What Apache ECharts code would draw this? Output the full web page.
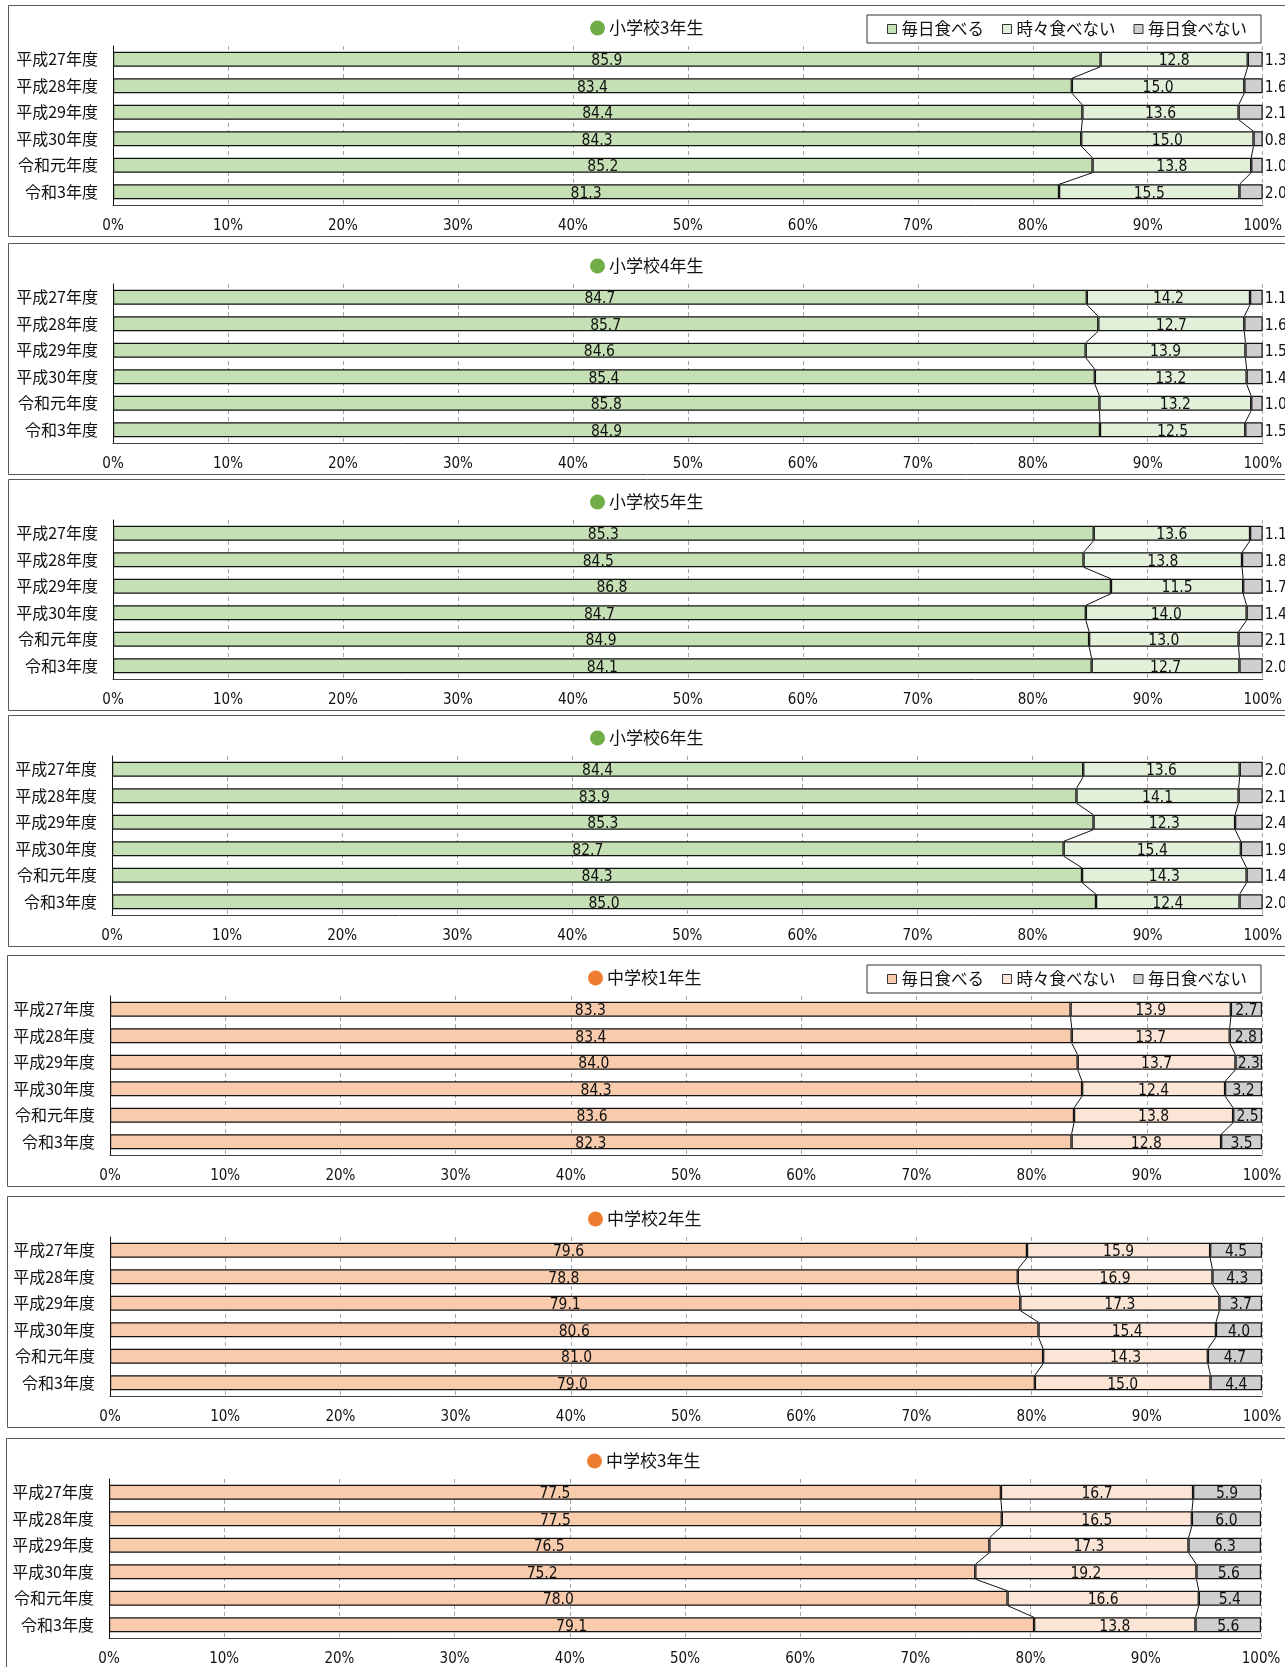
<!DOCTYPE html>
<html lang="ja">
<head>
<meta charset="utf-8">
<title>朝食の摂取状況</title>
<script src="https://cdn.jsdelivr.net/npm/echarts@6/dist/echarts.min.js"></script>
<style>
  html, body { margin: 0; padding: 0; background: #fff; overflow: hidden; }
  #chart { width: 1285px; height: 1667px; }
</style>
</head>
<body>
<div id="chart"></div>
<script>
// 年度（縦軸のカテゴリ）
const categories = ['平成27年度', '平成28年度', '平成29年度', '平成30年度', '令和元年度', '令和3年度'];
// 回答区分
const seriesNames = ['毎日食べる', '時々食べない', '毎日食べない'];

// 小学校3年生
const e3Every = [85.9, 83.4, 84.4, 84.3, 85.2, 81.3];
const e3Some  = [12.8, 15.0, 13.6, 15.0, 13.8, 15.5];
const e3Never = [1.3, 1.6, 2.1, 0.8, 1.0, 2.0];
// 小学校4年生
const e4Every = [84.7, 85.7, 84.6, 85.4, 85.8, 84.9];
const e4Some  = [14.2, 12.7, 13.9, 13.2, 13.2, 12.5];
const e4Never = [1.1, 1.6, 1.5, 1.4, 1.0, 1.5];
// 小学校5年生
const e5Every = [85.3, 84.5, 86.8, 84.7, 84.9, 84.1];
const e5Some  = [13.6, 13.8, 11.5, 14.0, 13.0, 12.7];
const e5Never = [1.1, 1.8, 1.7, 1.4, 2.1, 2.0];
// 小学校6年生
const e6Every = [84.4, 83.9, 85.3, 82.7, 84.3, 85.0];
const e6Some  = [13.6, 14.1, 12.3, 15.4, 14.3, 12.4];
const e6Never = [2.0, 2.1, 2.4, 1.9, 1.4, 2.0];
// 中学校1年生
const j1Every = [83.3, 83.4, 84.0, 84.3, 83.6, 82.3];
const j1Some  = [13.9, 13.7, 13.7, 12.4, 13.8, 12.8];
const j1Never = [2.7, 2.8, 2.3, 3.2, 2.5, 3.5];
// 中学校2年生
const j2Every = [79.6, 78.8, 79.1, 80.6, 81.0, 79.0];
const j2Some  = [15.9, 16.9, 17.3, 15.4, 14.3, 15.0];
const j2Never = [4.5, 4.3, 3.7, 4.0, 4.7, 4.4];
// 中学校3年生
const j3Every = [77.5, 77.5, 76.5, 75.2, 78.0, 79.1];
const j3Some  = [16.7, 16.5, 17.3, 19.2, 16.6, 13.8];
const j3Never = [5.9, 6.0, 6.3, 5.6, 5.4, 5.6];

const panels = [
  { title: '小学校3年生', kind: 'elem', every: e3Every, some: e3Some, never: e3Never, legend: true },
  { title: '小学校4年生', kind: 'elem', every: e4Every, some: e4Some, never: e4Never },
  { title: '小学校5年生', kind: 'elem', every: e5Every, some: e5Some, never: e5Never },
  { title: '小学校6年生', kind: 'elem', every: e6Every, some: e6Some, never: e6Never },
  { title: '中学校1年生', kind: 'jh', every: j1Every, some: j1Some, never: j1Never, legend: true },
  { title: '中学校2年生', kind: 'jh', every: j2Every, some: j2Some, never: j2Never },
  { title: '中学校3年生', kind: 'jh', every: j3Every, some: j3Some, never: j3Never }
];

// 各パネルの配置
const layout = [
  { off: 0,    frameX: 8, left: 113, right: 1263, plotH: 159, titleX: 590 },
  { off: 238,  frameX: 8, left: 113, right: 1263, plotH: 159, titleX: 590 },
  { off: 474,  frameX: 8, left: 113, right: 1263, plotH: 159, titleX: 590 },
  { off: 710,  frameX: 8, left: 112, right: 1263, plotH: 159, titleX: 590 },
  { off: 950,  frameX: 7, left: 110, right: 1262, plotH: 159, titleX: 588 },
  { off: 1191, frameX: 7, left: 110, right: 1262, plotH: 159, titleX: 588 },
  { off: 1433, frameX: 6, left: 109, right: 1261, plotH: 162, titleX: 587 }
];

const palette = {
  elem: { bars: ['#c5e0b4', '#e2f0d9', '#d0cece'], dot: '#70ad47' },
  jh:   { bars: ['#f8cbad', '#fbe5d6', '#d0cece'], dot: '#ed7d31' }
};

const NUM_FONT = "'Liberation Sans Narrow','DejaVu Sans Condensed',sans-serif";
const JP_FONT = "'Noto Sans CJK JP',sans-serif";
const BAR_RATIO = 0.56;

const option = {
  animation: false,
  backgroundColor: '#ffffff',
  title: [], legend: [], grid: [], xAxis: [], yAxis: [], series: [], graphic: []
};

panels.forEach((p, k) => {
  const L = layout[k];
  const colors = palette[p.kind].bars;

  // パネルの枠
  option.graphic.push({
    type: 'rect', silent: true, z: 0,
    shape: { x: L.frameX + 0.5, y: L.off + 5.5, width: 1400, height: 231 },
    style: { fill: 'none', stroke: '#595959', lineWidth: 1 }
  });

  option.title.push({
    left: L.titleX, top: L.off + 16, padding: 0,
    text: '{d| }{t|' + p.title + '}',
    textStyle: {
      fontWeight: 'normal',
      rich: {
        d: { width: 15, height: 15, borderRadius: 8, backgroundColor: palette[p.kind].dot },
        t: { fontFamily: JP_FONT, fontSize: 17, fontWeight: 'normal', color: '#111', padding: [0, 0, 0, 4], lineHeight: 24 }
      }
    }
  });

  if (p.legend) {
    option.legend.push({
      top: L.off + 15, right: 24,
      data: seriesNames.map((n, j) => ({ name: n, itemStyle: { color: colors[j], borderColor: '#333', borderWidth: 1 } })),
      icon: 'rect', itemWidth: 9, itemHeight: 9, itemGap: 18,
      selectedMode: false,
      padding: [4, 14, 4, 20],
      borderColor: '#333', borderWidth: 1,
      textStyle: { fontFamily: JP_FONT, fontSize: 16.5, color: '#111', lineHeight: 20 }
    });
  }

  option.grid.push({ left: L.left, top: L.off + 46, width: L.right - L.left, height: L.plotH });

  option.xAxis.push({
    gridIndex: k, type: 'value', min: 0, max: 100, interval: 10,
    axisLine: { show: true, lineStyle: { color: '#404040', width: 1 } },
    axisTick: { show: false },
    splitLine: { show: true, lineStyle: { color: '#a6a6a6', width: 1, type: [4, 3] } },
    axisLabel: { formatter: '{value}%', fontFamily: NUM_FONT, fontSize: 15, color: '#111', margin: 14 }
  });

  option.yAxis.push({
    gridIndex: k, type: 'category', data: categories, inverse: true,
    axisLine: { show: true, lineStyle: { color: '#111', width: 1 } },
    axisTick: { show: false },
    splitLine: { show: false },
    axisLabel: { fontFamily: JP_FONT, fontSize: 16, color: '#111', margin: 15 }
  });

  // 100%積み上げ：各年度の合計に対する割合で描く
  const rows = categories.map((_, i) => [p.every[i], p.some[i], p.never[i]]);
  const totals = rows.map(r => r[0] + r[1] + r[2]);
  const shares = [0, 1, 2].map(j => rows.map((r, i) => r[j] / totals[i] * 100));

  seriesNames.forEach((name, j) => {
    const outside = (j === 2 && p.kind === 'elem');
    option.series.push({
      type: 'bar', name: name,
      xAxisIndex: k, yAxisIndex: k,
      stack: 'panel' + k,
      barWidth: (BAR_RATIO * 100) + '%',
      data: shares[j],
      itemStyle: { color: colors[j], borderColor: '#111', borderWidth: 1.2 },
      label: {
        show: true,
        position: outside ? 'right' : 'inside',
        distance: 2,
        offset: [0, 2],
        formatter: prm => rows[prm.dataIndex][j].toFixed(1),
        fontFamily: NUM_FONT, fontSize: 15.5, color: '#111'
      },
      emphasis: { disabled: true },
      z: 2
    });
  });

  // 区分の境界を年度間で結ぶ区分線
  [1, 2].forEach(b => {
    const cum = rows.map((r, i) => shares.slice(0, b).reduce((s, a) => s + a[i], 0));
    const segs = cum.slice(0, -1).map((c, i) => [c, cum[i + 1], i]);
    option.series.push({
      type: 'custom',
      xAxisIndex: k, yAxisIndex: k,
      silent: true, z: 3,
      data: segs,
      encode: { x: 0, y: 2 },
      renderItem: (params, api) => {
        const i = api.value(2);
        const p0 = api.coord([api.value(0), i]);
        const p1 = api.coord([api.value(1), i + 1]);
        const half = api.size([0, 1])[1] * BAR_RATIO / 2;
        return {
          type: 'line',
          shape: { x1: p0[0], y1: p0[1] + half, x2: p1[0], y2: p1[1] - half },
          style: { stroke: '#111', lineWidth: 1 }
        };
      }
    });
  });
});

const chart = echarts.init(document.getElementById('chart'), null, { renderer: 'canvas' });
chart.setOption(option);
</script>
</body>
</html>
